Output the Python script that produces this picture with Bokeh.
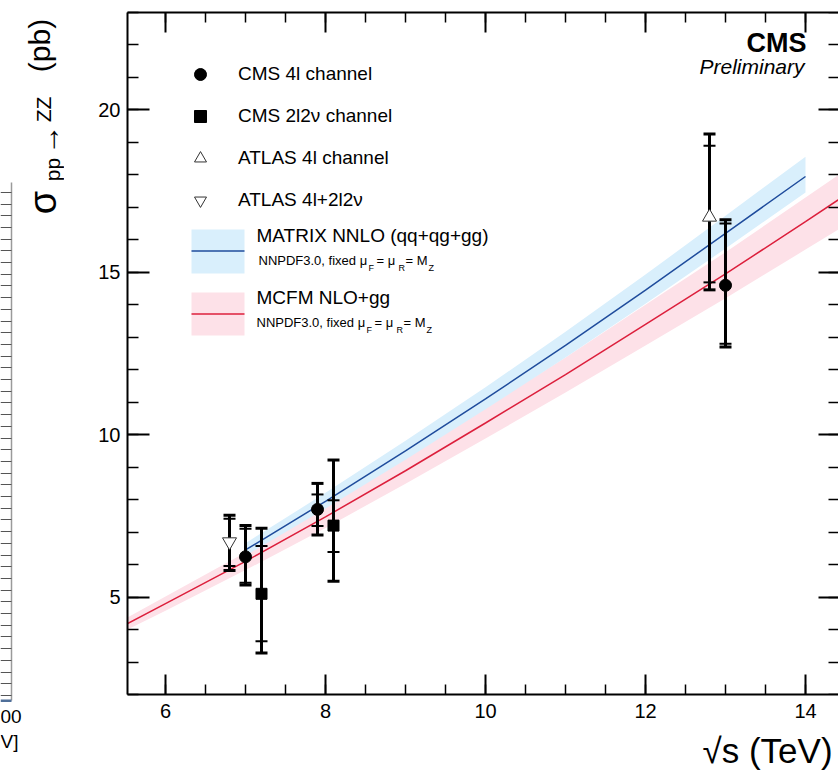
import math
from bokeh.plotting import figure
from bokeh.models import (Range1d, LinearAxis, SingleIntervalTicker, Label,
                          Legend, LegendItem, BoxAnnotation, CustomLabelingPolicy)
from bokeh.layouts import row, column
from bokeh.embed import file_html
from bokeh.resources import INLINE

# ---------------- data ----------------
# MCFM NLO+gg prediction (red line, pink band)
mcfm_x = [5.5, 6.0, 7.0, 8.0, 9.0, 10.0, 11.0, 12.0, 13.0, 14.0, 14.5]
mcfm_y = [4.15, 4.80, 6.10, 7.47, 8.89, 10.36, 11.85, 13.40, 14.95, 16.56, 17.38]
mcfm_lo = [3.97, 4.58, 5.83, 7.13, 8.49, 9.88, 11.30, 12.75, 14.20, 15.70, 16.45]
mcfm_hi = [4.34, 5.02, 6.37, 7.80, 9.29, 10.82, 12.38, 14.00, 15.62, 17.30, 18.15]

# MATRIX NNLO prediction (blue line, light-blue band)
matrix_x = [7.0, 8.0, 9.0, 10.0, 11.0, 12.0, 13.0, 14.0]
matrix_y = [6.45, 7.95, 9.50, 11.10, 12.75, 14.45, 16.20, 17.95]
matrix_lo = [6.27, 7.73, 9.23, 10.78, 12.38, 14.03, 15.73, 17.46]
matrix_hi = [6.66, 8.21, 9.81, 11.46, 13.17, 14.93, 16.74, 18.56]

# CMS 4l channel
cms4l_x = [7.0, 7.9, 13.0]
cms4l_y = [6.24, 7.70, 14.60]
cms4l_stat_lo = [5.44, 7.19, 12.80]
cms4l_stat_hi = [7.10, 8.16, 16.50]
cms4l_tot_lo = [5.37, 6.91, 12.70]
cms4l_tot_hi = [7.20, 8.50, 16.62]

# CMS 2l2nu channel
cms2l_x = [7.2, 8.1]
cms2l_y = [5.10, 7.20]
cms2l_stat_lo = [3.64, 6.39]
cms2l_stat_hi = [6.57, 7.98]
cms2l_tot_lo = [3.28, 5.49]
cms2l_tot_hi = [7.12, 9.22]

# ATLAS 4l channel
atl4l_x = [12.8]
atl4l_y = [16.70]
atl4l_stat_lo = [14.69]
atl4l_stat_hi = [18.90]
atl4l_tot_lo = [14.46]
atl4l_tot_hi = [19.26]

# ATLAS 4l+2l2nu
atlc_x = [6.8]
atlc_y = [6.70]
atlc_stat_lo = [5.96]
atlc_stat_hi = [7.41]
atlc_tot_lo = [5.82]
atlc_tot_hi = [7.52]

legend_labels = ["CMS 4l channel", "CMS 2l2\u03bd channel", "ATLAS 4l channel", "ATLAS 4l+2l2\u03bd"]
theory_labels = ["MATRIX NNLO (qq+qg+gg)", "MCFM NLO+gg"]

# ---------------- layout constants ----------------
W, H = 838, 775
TOP_H = 730            # height of the strip holding the plot; the rest holds the x title
SIDE_W = 64
FL, FR, FT, FB = 127, 838, 12, 694
X0, PXX = 5.525, 80.0
X1 = X0 + (FR - FL) / PXX
Y0, Y1 = 2.0, 23.0
PXY = (FB - FT) / (Y1 - Y0)
FONT = "Liberation Sans"
NO_LABELS = CustomLabelingPolicy(code="return new Set()")


def dx(px):
    return X0 + (px - FL) / PXX


def dy(py):
    return Y0 + (FB - py) / PXY


def blank_strip(width, height, xr, yr):
    f = figure(width=width, height=height, x_range=Range1d(*xr), y_range=Range1d(*yr),
               output_backend="svg", toolbar_location=None,
               min_border_left=0, min_border_right=0, min_border_top=0, min_border_bottom=0)
    f.frame_align = False
    f.outline_line_color = None
    f.grid.visible = False
    f.axis.visible = False
    f.background_fill_color = "white"
    f.border_fill_color = "white"
    return f


p = figure(width=W - SIDE_W, height=TOP_H, x_range=Range1d(X0, X1), y_range=Range1d(Y0, Y1),
           output_backend="svg", toolbar_location=None,
           min_border_left=FL - SIDE_W, min_border_right=0,
           min_border_top=FT, min_border_bottom=TOP_H - FB)
p.frame_align = False
p.outline_line_color = None
p.grid.visible = False
p.background_fill_color = "white"
p.border_fill_color = "white"

xt = SingleIntervalTicker(interval=2, num_minor_ticks=4)
yt = SingleIntervalTicker(interval=5, num_minor_ticks=5)


def style_axis(ax, ticker, major, minor, labels, out=False):
    ax.ticker = ticker
    ax.major_tick_in = 0 if out else major
    ax.major_tick_out = major if out else 0
    ax.minor_tick_in = 0 if out else minor
    ax.minor_tick_out = minor if out else 0
    ax.major_tick_line_width = 2
    ax.minor_tick_line_width = 1.5
    ax.major_tick_line_color = "black"
    ax.minor_tick_line_color = "black"
    ax.axis_line_width = 2
    ax.axis_line_color = "black"
    if labels:
        ax.major_label_text_font = FONT
        ax.major_label_text_font_size = "20px"
        ax.major_label_text_color = "black"
    else:
        ax.major_label_text_font_size = "1px"
        ax.major_label_standoff = 0
        ax.major_label_policy = NO_LABELS


style_axis(p.xaxis[0], xt, 20, 10, True)
p.xaxis[0].major_label_standoff = 9
style_axis(p.yaxis[0], yt, 22, 11, True)
p.yaxis[0].major_label_standoff = 7

top_ax = LinearAxis()
style_axis(top_ax, xt, 20, 10, False)
p.add_layout(top_ax, "above")
# right-hand ticks: an axis pinned at the right edge of the frame, ticks pointing inwards
right_ax = LinearAxis(fixed_location=X1)
style_axis(right_ax, yt, 20, 10, False, out=True)
right_ax.axis_line_alpha = 0
p.add_layout(right_ax, "left")

# ---------------- theory bands and lines ----------------
PINK, RED = "#fde1e8", "#dc1f3c"
LBLUE, BLUE = "#d9effc", "#1f4c9c"
p.varea(x=mcfm_x, y1=mcfm_lo, y2=mcfm_hi, fill_color=PINK)
p.varea(x=matrix_x, y1=matrix_lo, y2=matrix_hi, fill_color=LBLUE)
p.line(mcfm_x, mcfm_y, line_color=RED, line_width=1.5)
p.line(matrix_x, matrix_y, line_color=BLUE, line_width=1.5)

# ---------------- error bars ----------------
def errbars(x, slo, shi, tlo, thi):
    p.segment(x0=x, y0=tlo, x1=x, y1=thi, line_color="black", line_width=3)
    p.scatter(x, thi, marker="dash", size=12, line_color="black", line_width=3)
    p.scatter(x, tlo, marker="dash", size=12, line_color="black", line_width=3)
    p.scatter(x, shi, marker="dash", size=12, line_color="black", line_width=2)
    p.scatter(x, slo, marker="dash", size=12, line_color="black", line_width=2)


errbars(atlc_x, atlc_stat_lo, atlc_stat_hi, atlc_tot_lo, atlc_tot_hi)
errbars(cms4l_x, cms4l_stat_lo, cms4l_stat_hi, cms4l_tot_lo, cms4l_tot_hi)
errbars(cms2l_x, cms2l_stat_lo, cms2l_stat_hi, cms2l_tot_lo, cms2l_tot_hi)
errbars(atl4l_x, atl4l_stat_lo, atl4l_stat_hi, atl4l_tot_lo, atl4l_tot_hi)

r_c4l = p.scatter(cms4l_x, cms4l_y, marker="circle", size=12, fill_color="black", line_color="black")
r_c2l = p.scatter(cms2l_x, cms2l_y, marker="square", size=11, fill_color="black", line_color="black")
r_a4l = p.scatter(atl4l_x, atl4l_y, marker="triangle", size=14, fill_color="white",
                  line_color="#333333", line_width=1)
r_ac = p.scatter(atlc_x, atlc_y, marker="inverted_triangle", size=14, fill_color="white",
                 line_color="#333333", line_width=1)

# ---------------- legend: markers ----------------
legA = Legend(items=[LegendItem(label=legend_labels[0], renderers=[r_c4l]),
                     LegendItem(label=legend_labels[1], renderers=[r_c2l]),
                     LegendItem(label=legend_labels[2], renderers=[r_a4l]),
                     LegendItem(label=legend_labels[3], renderers=[r_ac])],
              glyph_width=30, glyph_height=30, label_height=30, label_standoff=23, spacing=12,
              padding=0, margin=0, border_line_color=None, background_fill_alpha=0,
              label_text_font=FONT, label_text_font_size="19px", label_text_color="black",
              location=(185 - FL, FB - (59 + 4 * 30 + 3 * 12)))
p.add_layout(legA)

# ---------------- legend: theory bands ----------------
for top, bot, fill, line_y, line_c in [(229, 273, LBLUE, 250.5, BLUE), (292, 335, PINK, 313.5, RED)]:
    p.add_layout(BoxAnnotation(left=dx(191), right=dx(244), top=dy(top), bottom=dy(bot),
                               fill_color=fill, fill_alpha=1, line_color=None))
    p.add_layout(BoxAnnotation(left=dx(191), right=dx(244), top=dy(line_y - 0.75),
                               bottom=dy(line_y + 0.75), fill_color=line_c, fill_alpha=1,
                               line_color=None))


def lab(px, py, text, size, **kw):
    p.add_layout(Label(x=dx(px), y=dy(py), text=text, text_font=FONT,
                       text_font_size=f"{size}px", text_color="black", **kw))


lab(256, 245, theory_labels[0], 19)
lab(256, 307, theory_labels[1], 19)
# sub-lines of the theory legend: NNPDF3.0, fixed mu_F = mu_R = M_Z
for shift, base in [(0, 267), (-2, 329)]:
    lab(258 + shift, base, "NNPDF3.0, fixed \u03bc", 13)
    lab(368 + shift, base + 5, "F", 9)
    lab(376 + shift, base, "= \u03bc", 13)
    lab(398 + shift, base + 5, "R", 9)
    lab(405 + shift, base, "= M", 13)
    lab(428 + shift, base + 5, "Z", 9)

# CMS Preliminary
lab(806, 57, "CMS", 27, text_align="right", text_font_style="bold")
lab(804, 77, "Preliminary", 21, text_align="right", text_font_style="italic")

# ---------------- side strip: y-axis title and fragment of the neighbouring panel ----------------
side = blank_strip(SIDE_W, TOP_H, (0, SIDE_W), (0, TOP_H))

frag_ax = LinearAxis(fixed_location=11, bounds=(TOP_H - 700, TOP_H - 182),
                     ticker=SingleIntervalTicker(interval=11.7, num_minor_ticks=0))
frag_ax.major_tick_in = 11
frag_ax.major_tick_out = 0
frag_ax.minor_tick_in = 0
frag_ax.minor_tick_out = 0
frag_ax.major_tick_line_color = "#555555"
frag_ax.major_tick_line_width = 1
frag_ax.axis_line_color = "#9a9a9a"
frag_ax.axis_line_width = 1.5
frag_ax.major_label_text_font_size = "1px"
frag_ax.major_label_standoff = 0
frag_ax.major_label_policy = NO_LABELS
side.add_layout(frag_ax, "right")
side.add_layout(BoxAnnotation(left=0, right=11, top=TOP_H - 699, bottom=TOP_H - 701.5,
                              fill_color="#4f6f99", fill_alpha=1, line_color=None))


def slab(fig, fig_top, px, py, text, size, **kw):
    h = fig.y_range.end
    fig.add_layout(Label(x=px, y=h - (py - fig_top), text=text, text_font=FONT,
                         text_font_size=f"{size}px", text_color="black", **kw))


slab(side, 0, 0, 722, "00", 19)

# y-axis title  sigma_{pp -> ZZ} (pb), rotated to read upwards
rot = dict(angle=math.pi / 2, text_align="center", text_baseline="middle")
slab(side, 0, 42, 202, "\u03c3", 38, **rot)
slab(side, 0, 52, 169, "pp", 21, **rot)
slab(side, 0, 48, 139, "\u2192", 30, **rot)
slab(side, 0, 43, 109, "ZZ", 21, **rot)
slab(side, 0, 39, 45, "(pb)", 30, **rot)

# ---------------- bottom strip: x-axis title ----------------
bottom = blank_strip(W, H - TOP_H, (0, W), (0, H - TOP_H))
slab(bottom, TOP_H, 0, 751, "V]", 19)
slab(bottom, TOP_H, 702, 769, "\u221as (TeV)", 35)

layout = column(row(side, p), bottom)
open("out.html", "w").write(file_html(layout, INLINE))
